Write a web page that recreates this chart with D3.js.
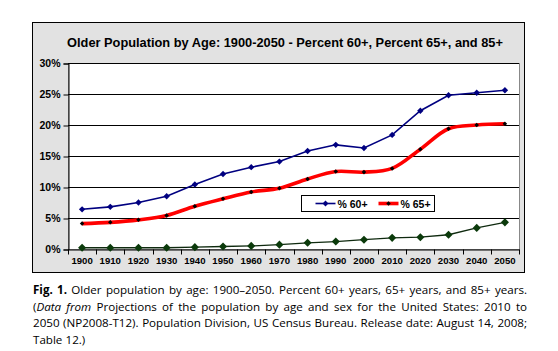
<!DOCTYPE html>
<html>
  <head>
    <meta charset="utf-8">
    <script src="https://d3js.org/d3.v7.min.js"></script>
    <style>
      body { margin: 0; background: #fff; }
    </style>
  </head>
  <body>
    <div id="chart"></div>
    <script type="text/javascript">

      // data (percent of US population)
      var years = ["1900","1910","1920","1930","1940","1950","1960","1970","1980","1990","2000","2010","2020","2030","2040","2050"];
      var pct60 = [6.4, 6.8, 7.5, 8.5, 10.4, 12.1, 13.2, 14.1, 15.8, 16.8, 16.3, 18.4, 22.3, 24.8, 25.2, 25.6];
      var pct65 = [4.1, 4.3, 4.7, 5.4, 6.9, 8.1, 9.2, 9.8, 11.3, 12.5, 12.4, 13.0, 16.1, 19.4, 20.0, 20.2];
      var pct85 = [0.2, 0.2, 0.2, 0.2, 0.3, 0.4, 0.5, 0.7, 1.0, 1.2, 1.5, 1.8, 1.9, 2.3, 3.4, 4.3];
      var yTicks = [0, 5, 10, 15, 20, 25, 30];

      var title = "Older Population by Age: 1900-2050 - Percent 60+, Percent 65+, and 85+";

      var caption = [
        [{t: "Fig. 1.", s: "b"}, {t: " Older population by age: 1900\u20132050. Percent 60+ years, 65+ years, and 85+ years.", s: ""}],
        [{t: "(", s: ""}, {t: "Data from", s: "i"}, {t: " Projections of the population by age and sex for the United States: 2010 to", s: ""}],
        [{t: "2050 (NP2008-T12). Population Division, US Census Bureau. Release date: August 14, 2008;", s: ""}],
        [{t: "Table 12.)", s: ""}]
      ];

      var W = 558, H = 351;
      var box = {x: 32, y: 22, w: 492, h: 250};
      var plot = {left: 68, right: 519, top: 63, bottom: 249};

      var svg = d3.select("#chart").append("svg")
        .attr("width", W)
        .attr("height", H);

      // outer grey chart area
      svg.append("rect")
        .attr("x", box.x + 0.5).attr("y", box.y + 0.5)
        .attr("width", box.w).attr("height", box.h)
        .attr("fill", "#e2e2e2")
        .attr("stroke", "#000");

      svg.append("text")
        .attr("x", 285).attr("y", 47)
        .attr("text-anchor", "middle")
        .attr("font-family", "Liberation Sans, Arial, sans-serif")
        .attr("font-weight", "bold")
        .attr("font-size", "12.8px")
        .text(title);

      var x = d3.scaleBand()
        .domain(years)
        .range([plot.left, plot.right]);

      var y = d3.scaleLinear()
        .domain([0, 30])
        .range([plot.bottom, plot.top]);

      // plot area
      svg.append("rect")
        .attr("x", plot.left + 0.5).attr("y", plot.top + 0.5)
        .attr("width", plot.right - plot.left).attr("height", plot.bottom - plot.top)
        .attr("fill", "#fff")
        .attr("stroke", "#888");

      // gridlines
      svg.append("g")
        .selectAll("line")
        .data(yTicks.slice(1))
        .enter().append("line")
        .attr("x1", plot.left).attr("x2", plot.right)
        .attr("y1", function(d) { return Math.round(y(d)) + 0.5; })
        .attr("y2", function(d) { return Math.round(y(d)) + 0.5; })
        .attr("stroke", "#000");

      // y axis
      var yAxis = svg.append("g")
        .attr("transform", "translate(" + (plot.left + 0.5) + ",0.5)")
        .call(d3.axisLeft(y).tickValues(yTicks).tickSize(5).tickPadding(3)
          .tickFormat(function(d) { return d + "%"; }));
      yAxis.select(".domain").attr("stroke", "#000");
      yAxis.selectAll("text")
        .attr("font-family", "Liberation Sans, Arial, sans-serif")
        .attr("font-weight", "bold")
        .attr("font-size", "10.5px")
        .attr("fill", "#000");

      // x axis, ticks between categories
      var xAxis = svg.append("g")
        .attr("transform", "translate(0," + (plot.bottom + 0.5) + ")")
        .call(d3.axisBottom(x).tickSize(0).tickPadding(8));
      xAxis.select(".domain").attr("stroke", "#000");
      xAxis.selectAll("text")
        .attr("font-family", "Liberation Sans, Arial, sans-serif")
        .attr("font-weight", "bold")
        .attr("font-size", "9.6px")
        .attr("fill", "#000");
      xAxis.selectAll(".sep")
        .data(years.concat(["end"]))
        .enter().append("line")
        .attr("class", "sep")
        .attr("x1", function(d, i) { return Math.round(plot.left + i * x.step()) + 0.5; })
        .attr("x2", function(d, i) { return Math.round(plot.left + i * x.step()) + 0.5; })
        .attr("y1", 0).attr("y2", 5)
        .attr("stroke", "#000");

      var cx = function(d, i) { return x(years[i]) + x.bandwidth() / 2; };
      var diamond = d3.symbol().type(d3.symbolDiamond2);

      function drawSeries(vals, lineColor, lineWidth, curve, markColor, markSize) {
        var line = d3.line()
          .x(cx)
          .y(function(d) { return y(d); })
          .curve(curve);
        svg.append("path")
          .datum(vals)
          .attr("d", line)
          .attr("fill", "none")
          .attr("stroke", lineColor)
          .attr("stroke-width", lineWidth);
        svg.append("g")
          .selectAll("path")
          .data(vals)
          .enter().append("path")
          .attr("transform", function(d, i) { return "translate(" + cx(d, i) + "," + y(d) + ")"; })
          .attr("d", diamond.size(markSize))
          .attr("fill", markColor);
      }

      drawSeries(pct85, "#0f2a0f", 1.3, d3.curveLinear, "#0b3a0b", 42);
      drawSeries(pct65, "#ff0000", 3.6, d3.curveCatmullRom, "#000", 13);
      drawSeries(pct60, "#000080", 1.6, d3.curveLinear, "#000080", 26);

      // legend
      var lg = svg.append("g").attr("transform", "translate(301.5,195.5)");
      lg.append("rect")
        .attr("width", 133).attr("height", 16)
        .attr("fill", "#fff").attr("stroke", "#000");
      var items = [
        {label: "% 60+", color: "#000080", w: 1.6, mc: "#000080", ms: 22},
        {label: "% 65+", color: "#ff0000", w: 3.6, mc: "#000", ms: 13}
      ];
      items.forEach(function(it, i) {
        var ox = 14 + i * 63;
        lg.append("line")
          .attr("x1", ox).attr("x2", ox + 20)
          .attr("y1", 8).attr("y2", 8)
          .attr("stroke", it.color).attr("stroke-width", it.w);
        lg.append("path")
          .attr("transform", "translate(" + (ox + 10) + ",8)")
          .attr("d", diamond.size(it.ms))
          .attr("fill", it.mc);
        lg.append("text")
          .attr("x", ox + 22).attr("y", 12)
          .attr("font-family", "Liberation Sans, Arial, sans-serif")
          .attr("font-weight", "bold")
          .attr("font-size", "10.5px")
          .text(it.label);
      });

      // caption, justified
      var capLeft = 33, capRight = 527, capTop = 294, capLead = 16.5;
      function toWords(runs) {
        var ws = [], cur = [];
        runs.forEach(function(r) {
          r.t.split(/( )/).forEach(function(p) {
            if (p === " ") { if (cur.length) ws.push(cur); cur = []; }
            else if (p) cur.push({t: p, s: r.s});
          });
        });
        if (cur.length) ws.push(cur);
        return ws;
      }
      var cap = svg.append("g")
        .attr("font-family", "Open Sans, Noto Sans, sans-serif")
        .attr("font-size", "11.6px")
        .attr("fill", "#000");
      caption.forEach(function(runs, li) {
        var ws = toWords(runs);
        var nodes = ws.map(function(w) {
          var t = cap.append("text").attr("y", capTop + li * capLead);
          w.forEach(function(r) {
            t.append("tspan")
              .attr("font-weight", r.s === "b" ? "bold" : null)
              .attr("font-style", r.s === "i" ? "italic" : null)
              .text(r.t);
          });
          return t;
        });
        var widths = nodes.map(function(n) { return n.node().getComputedTextLength(); });
        var total = d3.sum(widths);
        var last = li === caption.length - 1;
        var gap = last ? 3.2 : (capRight - capLeft - total) / (nodes.length - 1);
        var px = capLeft;
        nodes.forEach(function(n, i) {
          n.attr("x", px);
          px += widths[i] + gap;
        });
      });

    </script>
  </body>
</html>
